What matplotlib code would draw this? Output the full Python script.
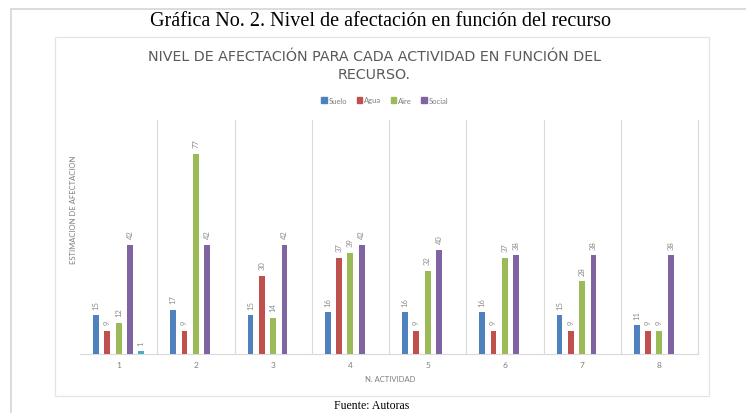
import numpy as np
import matplotlib
matplotlib.use("Agg")
import matplotlib.pyplot as plt
from matplotlib.lines import Line2D
from matplotlib.patches import Rectangle

# datos
actividades = ['1', '2', '3', '4', '5', '6', '7', '8']
suelo = [15, 17, 15, 16, 16, 16, 15, 11]
agua = [9, 9, 30, 37, 9, 9, 9, 9]
aire = [12, 77, 14, 39, 32, 37, 28, 9]
social = [42, 42, 42, 42, 40, 38, 38, 38]
extra = [1, None, None, None, None, None, None, None]  # serie sin leyenda

series = [('Suelo', suelo, '#4F81BD'), ('Agua', agua, '#C0504D'),
          ('Aire', aire, '#9BBB59'), ('Social', social, '#8064A2'),
          (None, extra, '#4BACC6')]

plt.rcParams['font.family'] = ['Lato', 'DejaVu Sans']

fig = plt.figure(figsize=(7.46, 4.14), dpi=100)

# marcos
W, H = 746, 414
fig.add_artist(Line2D([11 / W, 1], [1 - 10 / H, 1 - 10 / H], color='#d9d9d9', lw=1.3))
fig.add_artist(Line2D([11 / W, 11 / W], [0, 1 - 10 / H], color='#d9d9d9', lw=1.3))
fig.add_artist(Rectangle((55 / W, 1 - 397 / H), (709 - 55) / W, (397 - 38) / H,
                         fill=False, ec='#e4e4e4', lw=0.9))

fig.text(380 / W, 1 - 22 / H, 'Gráfica No. 2. Nivel de afectación en función del recurso',
         family='Liberation Serif', fontsize=14.5, ha='center', va='center')
fig.text(372 / W, 1 - 406 / H, 'Fuente: Autoras', family='Liberation Serif',
         fontsize=8.5, ha='center', va='center')

fig.text(374 / W, 1 - 57 / H, 'NIVEL DE AFECTACIÓN PARA CADA ACTIVIDAD EN FUNCIÓN DEL',
         family='DejaVu Sans', fontsize=10.3, color='#595959', ha='center', va='center')
fig.text(374 / W, 1 - 75 / H, 'RECURSO.', family='DejaVu Sans', fontsize=10.3,
         color='#595959', ha='center', va='center')

ax = fig.add_axes([80 / W, 1 - 355 / H, (698 - 80) / W, (355 - 121) / H])

x = np.arange(len(actividades))
step = 0.147
width = 0.075
for i, (nombre, vals, color) in enumerate(series):
    off = (i - 2) * step
    for j, v in enumerate(vals):
        if v is None:
            continue
        ax.bar(x[j] + off, v, width, color=color, zorder=3)
        ax.text(x[j] + off, v + 2.5, str(v), rotation=90, fontsize=5.5,
                color='#8c8c8c', ha='center', va='bottom')

ax.set_xlim(-0.5, len(actividades) - 0.5)
ax.set_ylim(0, 90)
ax.set_yticks([])
ax.set_xticks(x)
ax.set_xticklabels(actividades, fontsize=6, color='#7f7f7f')
ax.tick_params(axis='x', length=0, pad=5)
for b in np.arange(0.5, len(actividades) - 0.5):
    ax.axvline(b, color='#d9d9d9', lw=0.8, zorder=1)
for s in ['top', 'left']:
    ax.spines[s].set_visible(False)
ax.spines['bottom'].set_color('#d9d9d9')
ax.spines['right'].set_color('#d9d9d9')
ax.spines['right'].set_linewidth(0.8)

fig.text(73 / W, 1 - 210 / H, 'ESTIMACION DE AFECTACION', rotation=90, fontsize=5.5,
         color='#7f7f7f', ha='center', va='center')
fig.text(390 / W, 1 - 380 / H, 'N. ACTIVIDAD', fontsize=5.5, color='#7f7f7f',
         ha='center', va='center')

handles = [Rectangle((0, 0), 1, 1, color=c) for n, v, c in series if n]
labels = [n for n, v, c in series if n]
fig.legend(handles, labels, loc='center', bbox_to_anchor=(385 / W, 1 - 101 / H),
           ncol=4, frameon=False, fontsize=5.5, labelcolor='#7f7f7f',
           handlelength=0.7, handleheight=0.7, handletextpad=0.3, columnspacing=1.2)

fig.savefig('out.png', dpi=100)
